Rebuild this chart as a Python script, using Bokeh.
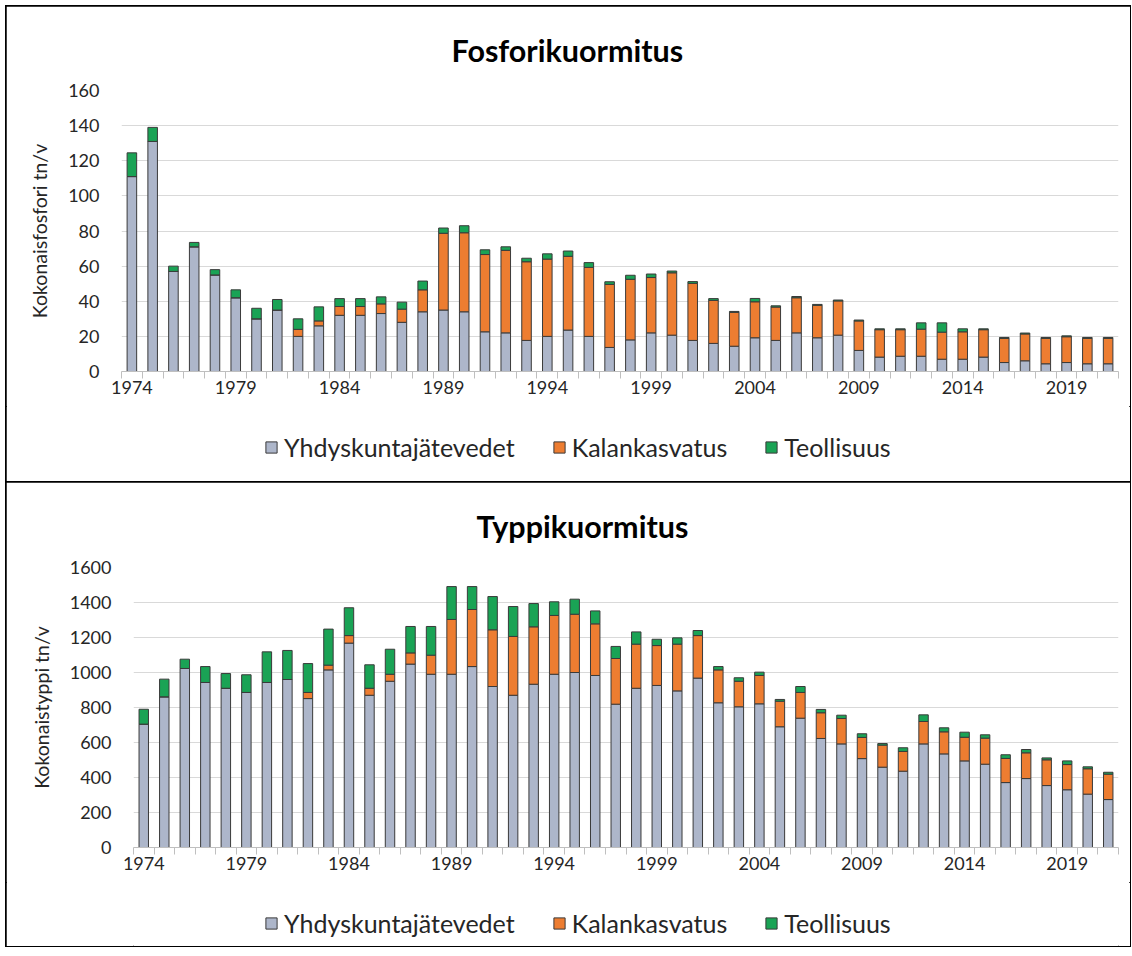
from bokeh.plotting import figure
from bokeh.models import ColumnDataSource, Range1d, FixedTicker, Legend, LegendItem
from bokeh.layouts import column
from bokeh.embed import file_html
from bokeh.resources import INLINE

years = list(range(1974, 2022))
series_names = ["Yhdyskuntajätevedet", "Kalankasvatus", "Teollisuus"]
colors = ["#ADB6CA", "#ED7D31", "#1AA355"]

# Fosforikuormitus (tn/v)
p_yhd = [111, 131, 57, 71, 55, 42, 30, 35, 20, 26,
         32, 32, 33, 28, 34, 35, 34, 22.6, 22, 17.7,
         20, 23.6, 20, 13.7, 18, 22, 20.7, 17.7, 16, 14.4,
         19.2, 17.7, 22, 19.2, 20.7, 12, 8.2, 8.7, 8.7, 7,
         7, 8.2, 5.1, 6.1, 4.4, 5.1, 4.4, 4.4]
p_kal = [0, 0, 0, 0, 0, 0, 0, 0, 4, 2.8,
         5, 5, 5.5, 7.5, 12.5, 43.7, 45, 44, 47, 44.8,
         44, 42, 39.3, 35.9, 34.5, 31.5, 35.5, 32.5, 24.5, 19.3,
         20.5, 19, 20, 18.5, 19.5, 16.8, 15.6, 15.1, 15.4, 15.4,
         15.6, 15.6, 13.8, 15.3, 14.5, 14.7, 14.5, 14.5]
p_teo = [13.5, 8, 3, 2.5, 3, 4.5, 6, 6, 6, 8,
         4.5, 4.5, 4, 4, 5, 3, 4, 2.7, 2, 2,
         3, 3, 2.7, 1.5, 2.3, 2, 1, 1, 1, 0.5,
         1.9, 0.7, 0.7, 0.5, 0.5, 0.5, 0.5, 0.5, 3.6, 5.3,
         1.7, 0.5, 0.5, 0.5, 0.5, 0.5, 0.5, 0.5]

# Typpikuormitus (tn/v)
n_yhd = [705, 861, 1023, 943, 910, 886, 943, 960, 851, 1015,
         1168, 870, 950, 1048, 990, 990, 1034, 920, 870, 933,
         990, 1000, 983, 819, 910, 926, 895, 968, 827, 804,
         821, 690, 739, 623, 592, 508, 459, 436, 592, 535,
         495, 476, 371, 394, 354, 330, 305, 274]
n_kal = [0, 0, 0, 0, 0, 0, 0, 0, 35, 27,
         43, 40, 40, 64, 109, 313, 326, 324, 336, 328,
         336, 333, 295, 261, 252, 228, 267, 243, 188, 146,
         162, 146, 147, 147, 145, 121, 126, 113, 128, 126,
         135, 149, 138, 147, 147, 144, 145, 145]
n_teo = [85, 101, 53, 91, 84, 101, 175, 166, 165, 206,
         159, 134, 143, 151, 164, 188, 131, 190, 171, 133,
         78, 86, 74, 69, 70, 36, 36, 29, 19, 20,
         19, 10, 34, 19, 19, 21, 9, 21, 38, 23,
         29, 19, 21, 19, 11, 21, 11, 11]

label_ticks = list(range(1974, 2022, 5))
FONT = "Lato"
TXT = "#262626"
LINE = "#3A3A3A"
W = 1124


def make_chart(title, ylabel, yvals, kvals, tvals, ymax, ystep,
               left, top_border, title_standoff, title_offset):
    src = ColumnDataSource(dict(x=years, a=yvals, b=kvals, c=tvals))
    p = figure(width=W, height=400, output_backend="svg",
               toolbar_location=None, tools="", title=title,
               x_range=Range1d(1973.5, 2021.5), y_range=Range1d(0, ymax),
               min_border_left=left, min_border_right=12,
               min_border_top=top_border, min_border_bottom=35)
    p.vbar_stack(["a", "b", "c"], x="x", width=0.46, source=src,
                 fill_color=colors, line_color=LINE, line_width=1)
    p.title.align = "left"
    p.title.offset = title_offset
    p.title.standoff = title_standoff
    p.title.text_font = FONT
    p.title.text_font_size = "30.5px"
    p.title.text_font_style = "bold"
    p.title.text_color = "#000000"

    p.xaxis.ticker = FixedTicker(ticks=label_ticks,
                                 minor_ticks=[1973.5 + i for i in range(49)])
    p.xaxis.major_tick_line_color = None
    p.xaxis.minor_tick_line_color = "#BFBFBF"
    p.xaxis.minor_tick_in = 0
    p.xaxis.minor_tick_out = 7
    p.xaxis.axis_line_color = "#BFBFBF"
    p.xaxis.major_label_text_font = FONT
    p.xaxis.major_label_text_font_size = "18px"
    p.xaxis.major_label_text_color = TXT
    p.xaxis.major_label_standoff = 2

    p.yaxis.ticker = FixedTicker(ticks=list(range(0, ymax + 1, ystep)))
    p.yaxis.axis_line_color = None
    p.yaxis.major_tick_line_color = None
    p.yaxis.minor_tick_line_color = None
    p.yaxis.major_label_text_font = FONT
    p.yaxis.major_label_text_font_size = "18px"
    p.yaxis.major_label_text_color = TXT
    p.yaxis.major_label_standoff = 16
    p.yaxis.axis_label = ylabel
    p.yaxis.axis_label_text_font = FONT
    p.yaxis.axis_label_text_font_size = "19.5px"
    p.yaxis.axis_label_text_font_style = "normal"
    p.yaxis.axis_label_text_color = TXT
    p.yaxis.axis_label_standoff = 14

    p.xgrid.grid_line_color = None
    p.ygrid.grid_line_color = "#D9D9D9"
    p.outline_line_color = None
    return p


def make_legend(height, loc):
    lf = figure(width=W, height=height, output_backend="svg",
                toolbar_location=None, tools="",
                x_axis_type=None, y_axis_type=None,
                x_range=Range1d(0, 1), y_range=Range1d(0, 1),
                min_border=0)
    lf.outline_line_color = None
    # swatch renderers for the legend, placed outside the visible range
    rs = [lf.vbar(x=[-5], top=[-5], bottom=[-6], width=0.5, fill_color=c,
                  line_color=LINE, line_width=1) for c in colors]
    legend = Legend(items=[LegendItem(label=n, renderers=[r])
                           for n, r in zip(series_names, rs)],
                    orientation="horizontal", location=loc,
                    label_text_font=FONT, label_text_font_size="25px",
                    label_text_color=TXT, glyph_width=14, glyph_height=14,
                    spacing=37, label_standoff=6, padding=4, margin=0,
                    border_line_color=None, background_fill_alpha=0)
    lf.add_layout(legend, "center")
    return lf


BOX = {"outline": "2px solid #000000", "outline-offset": "-1px"}

top_chart = make_chart("Fosforikuormitus", "Kokonaisfosfori tn/v",
                       p_yhd, p_kal, p_teo, 160, 20, 115, 84, 45, 330)
top_legend = make_legend(76, (143, 20))
bottom_chart = make_chart("Typpikuormitus", "Kokonaistyppi tn/v",
                          n_yhd, n_kal, n_teo, 1600, 200, 127, 85, 47, 343)
bottom_legend = make_legend(64, (131, 8))

top_box = column(top_chart, top_legend, spacing=0, styles=BOX)
bottom_box = column(bottom_chart, bottom_legend, spacing=0, styles=BOX)
layout = column(top_box, bottom_box, spacing=0, margin=(6, 0, 0, 6))
open("out.html", "w").write(file_html(layout, INLINE))
